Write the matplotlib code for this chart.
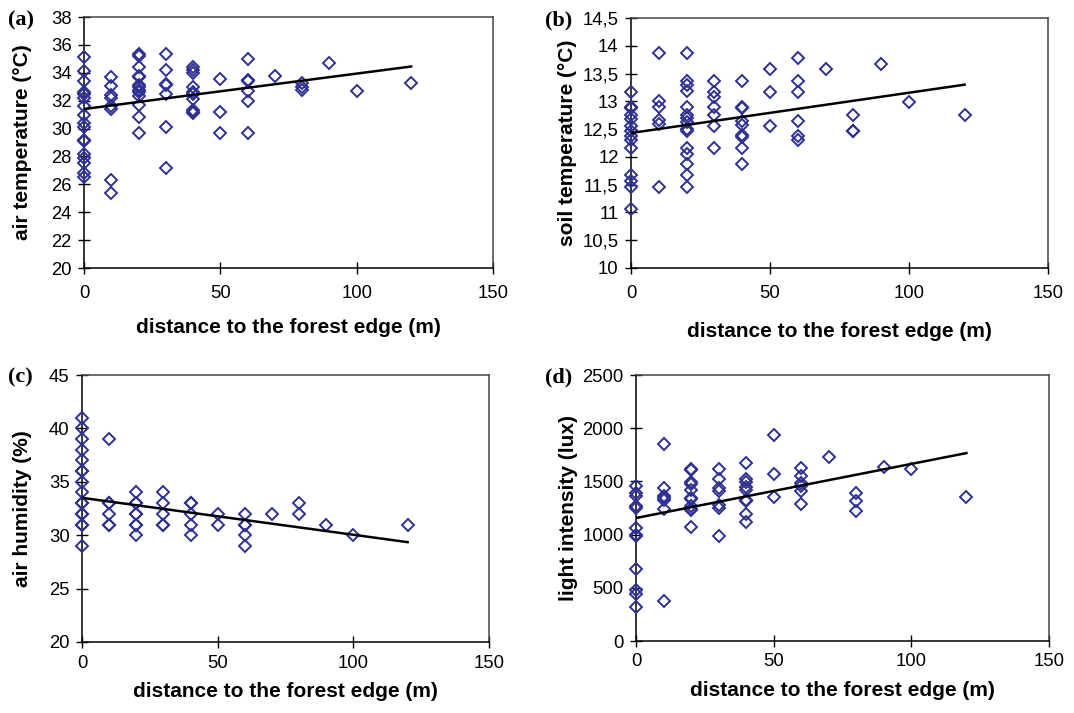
import matplotlib
matplotlib.use("Agg")
import matplotlib.pyplot as plt
import numpy as np

# ---------------- data ----------------
distances = [0, 10, 20, 30, 40, 50, 60, 70, 80, 90, 100, 120]

air_temp = [
    [35.1, 34.1, 33.4, 32.6, 32.5, 32.2, 31.6, 31.0, 30.4, 30.1, 29.2, 29.1, 28.2, 27.9, 27.5, 26.8, 26.5],
    [33.7, 33.05, 32.4, 32.2, 31.6, 31.4, 26.3, 25.4],
    [35.35, 35.2, 34.4, 33.8, 33.7, 33.1, 32.95, 32.8, 32.6, 32.3, 31.7, 30.85, 29.7],
    [35.35, 34.2, 33.2, 33.1, 32.5, 30.1, 27.2],
    [34.4, 34.2, 34.0, 32.95, 32.6, 32.5, 32.1, 31.3, 31.2, 31.1],
    [33.55, 31.2, 29.7],
    [35.0, 33.5, 33.4, 32.7, 32.0, 29.7],
    [33.8],
    [33.24, 33.0, 32.76],
    [34.7],
    [32.7],
    [33.3],
]
air_temp_trend = [31.4, 34.45]      # fitted value at x = 0 and x = 120

soil_temp = [
    [13.17, 12.89, 12.88, 12.76, 12.68, 12.56, 12.47, 12.37, 12.3, 12.16, 11.68, 11.57, 11.46, 11.06],
    [13.87, 13.0, 12.89, 12.67, 12.6, 11.46],
    [13.87, 13.37, 13.3, 13.19, 12.89, 12.76, 12.7, 12.62, 12.5, 12.47, 12.16, 12.06, 11.87, 11.68, 11.46],
    [13.36, 13.17, 13.08, 12.89, 12.76, 12.56, 12.16],
    [13.36, 12.89, 12.88, 12.65, 12.57, 12.39, 12.36, 12.16, 11.87],
    [13.58, 13.17, 12.56],
    [13.78, 13.36, 13.16, 12.65, 12.38, 12.3],
    [13.58],
    [12.76, 12.47, 12.47],
    [13.68],
    [12.98],
    [12.76],
]
soil_temp_trend = [12.43, 13.3]

air_humidity = [
    [41, 40, 39, 38, 37, 36, 36, 35, 34, 33, 33, 32, 32, 31, 31, 29],
    [39, 33, 33, 32, 31, 31],
    [34, 33, 33, 32, 32, 31, 31, 30],
    [34, 33, 32, 31, 31],
    [33, 33, 32, 31, 30],
    [32, 31],
    [32, 31, 31, 30, 29],
    [32],
    [33, 32],
    [31],
    [30],
    [31],
]
air_humidity_trend = [33.5, 29.35]

light = [
    [1453, 1391, 1359, 1266, 1250, 1062, 994, 984, 672, 475, 438, 322],
    [1853, 1438, 1366, 1344, 1322, 1244, 375],
    [1619, 1609, 1494, 1475, 1422, 1344, 1334, 1266, 1244, 1228, 1072],
    [1619, 1522, 1438, 1412, 1281, 1250, 984],
    [1669, 1525, 1494, 1444, 1422, 1328, 1312, 1194, 1119],
    [1938, 1569, 1353],
    [1625, 1547, 1484, 1453, 1412, 1288],
    [1734],
    [1391, 1319, 1219],
    [1634],
    [1616],
    [1350],
]
light_trend = [1156, 1766]
trend_x = [0, 120]

x_ticks = [0, 50, 100, 150]
yticks_a = [20, 22, 24, 26, 28, 30, 32, 34, 36, 38]
yticks_b = [10, 10.5, 11, 11.5, 12, 12.5, 13, 13.5, 14, 14.5]
yticks_c = [20, 25, 30, 35, 40, 45]
yticks_d = [0, 500, 1000, 1500, 2000, 2500]

ylabel_a = "air temperature (°C)"
ylabel_b = "soil temperature (°C)"
ylabel_c = "air humidity (%)"
ylabel_d = "light intensity (lux)"
xlabel = "distance to the forest edge (m)"
panel_tags = ["(a)", "(b)", "(c)", "(d)"]

# ---------------- drawing ----------------
plt.rcParams['font.family'] = ['Liberation Sans', 'DejaVu Sans']
W, H = 1074, 713
fig = plt.figure(figsize=(W / 100, H / 100), dpi=100)

MARK = '#2e3192'


def px_axes(left, top, right, bottom):
    return fig.add_axes([left / W, 1 - bottom / H, (right - left) / W, (bottom - top) / H])


def expand(groups):
    xs, ys = [], []
    for d, vals in zip(distances, groups):
        xs += [d] * len(vals)
        ys += list(vals)
    return np.array(xs), np.array(ys)


def panel(ax, groups, trend, yticks, ylabel, ylabel_x, xlabel_y, xpad, comma=False):
    xs, ys = expand(groups)
    ax.plot(xs, ys, linestyle='none', marker='D', markersize=6.3,
            markerfacecolor='none', markeredgecolor=MARK, markeredgewidth=1.4,
            zorder=3, clip_on=False)
    ax.plot(trend_x, trend, color='black', lw=1.8, zorder=4)
    ax.set_xlim(0, 150)
    ax.set_ylim(yticks[0], yticks[-1])
    ax.set_xticks(x_ticks)
    ax.set_yticks(yticks)
    if comma:
        ax.set_yticklabels([(f"{t:g}").replace('.', ',') for t in yticks])
    ax.tick_params(direction='inout', length=8, width=1, labelsize=13.3, colors='black')
    ax.tick_params(axis='y', pad=5)
    ax.tick_params(axis='x', pad=xpad)
    for s in ['left', 'bottom']:
        ax.spines[s].set_color('black')
        ax.spines[s].set_linewidth(1.1)
    for s in ['top', 'right']:
        ax.spines[s].set_color('#444444')
        ax.spines[s].set_linewidth(1.1)
    ax.set_ylabel(ylabel, fontsize=15, fontweight='bold')
    ax.yaxis.set_label_coords(ylabel_x, 0.5)
    ax.set_xlabel(xlabel, fontsize=15, fontweight='bold', va='top')
    ax.xaxis.set_label_coords(0.5, xlabel_y)


ax_a = px_axes(84, 17, 493, 268)
ax_b = px_axes(631, 18, 1048, 268)
ax_c = px_axes(82, 375, 489, 642)
ax_d = px_axes(636, 375, 1049, 641)

panel(ax_a, air_temp, air_temp_trend, yticks_a, ylabel_a, -0.127, -0.20, 8)
panel(ax_b, soil_temp, soil_temp_trend, yticks_b, ylabel_b, -0.13, -0.215, 8, comma=True)
panel(ax_c, air_humidity, air_humidity_trend, yticks_c, ylabel_c, -0.122, -0.15, 5)
panel(ax_d, light, light_trend, yticks_d, ylabel_d, -0.14, -0.15, 5)

tag_pos = [(8, 20), (545, 20), (8, 377), (545, 377)]
for tag, (tx, ty) in zip(panel_tags, tag_pos):
    fig.text(tx / W, 1 - ty / H, tag, fontsize=16, fontweight='bold',
             family='Liberation Serif', ha='left', va='center')

fig.savefig('out.png', dpi=100)
